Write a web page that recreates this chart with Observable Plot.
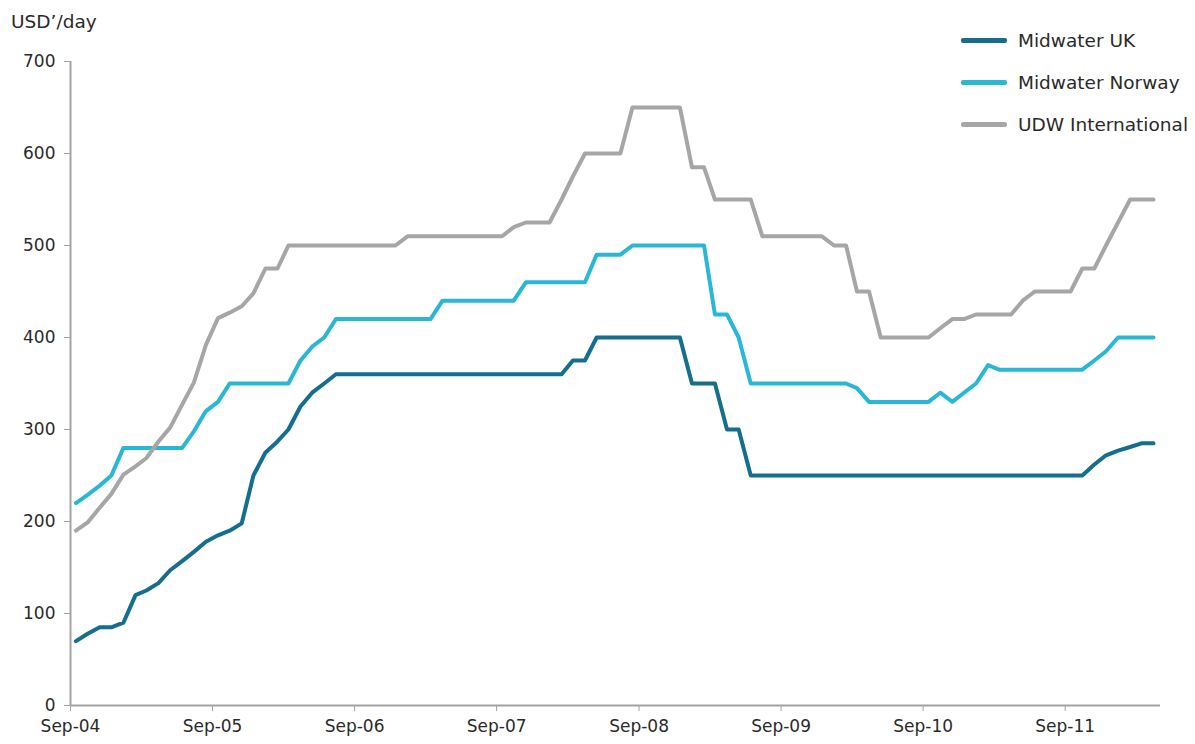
<!DOCTYPE html>
<html>
<head>
<meta charset="utf-8">
<script src="https://cdn.jsdelivr.net/npm/d3@7"></script>
<script src="https://cdn.jsdelivr.net/npm/@observablehq/plot@0.6"></script>
<style>
  html, body { margin: 0; padding: 0; background: #fff; }
  #wrap { position: relative; width: 1195px; height: 744px; font-family: "DejaVu Sans", sans-serif; color: #2a2a2a; }
  #ylabel { position: absolute; left: 11px; top: 11px; font-size: 18.5px; }
  #legend { position: absolute; left: 961px; top: 19px; font-size: 18.5px; }
  .row { display: flex; align-items: center; height: 42px; }
  .swatch { width: 46px; height: 5px; border-radius: 2px; margin-right: 11px; }
</style>
</head>
<body>
<div id="wrap">
  <div id="chart"></div>
  <div id="ylabel">USD’/day</div>
  <div id="legend"></div>
</div>
<script>
// Series names and colours
const seriesNames = ["Midwater UK", "Midwater Norway", "UDW International"];
const seriesColors = ["#156e8e", "#2ab7d5", "#a6a6a6"];

// Monthly values, first month Sep-04 (USD'000/day)
const midwaterUK = [
  70, 78, 85, 85, 90, 120, 125, 133, 147, 157, 167, 178,
  185, 190, 198, 250, 275, 287, 300, 325, 340, 350, 360, 360,
  360, 360, 360, 360, 360, 360, 360, 360, 360, 360, 360, 360,
  360, 360, 360, 360, 360, 360, 375, 375, 400, 400, 400, 400,
  400, 400, 400, 400, 350, 350, 350, 300, 300, 250, 250, 250,
  250, 250, 250, 250, 250, 250, 250, 250, 250, 250, 250, 250,
  250, 250, 250, 250, 250, 250, 250, 250, 250, 250, 250, 250,
  250, 250, 262, 272, 277, 281, 285, 285
];
const midwaterNorway = [
  220, 229, 239, 250, 280, 280, 280, 280, 280, 280, 298, 320,
  330, 350, 350, 350, 350, 350, 350, 375, 390, 400, 420, 420,
  420, 420, 420, 420, 420, 420, 420, 440, 440, 440, 440, 440,
  440, 440, 460, 460, 460, 460, 460, 460, 490, 490, 490, 500,
  500, 500, 500, 500, 500, 500, 425, 425, 400, 350, 350, 350,
  350, 350, 350, 350, 350, 350, 345, 330, 330, 330, 330, 330,
  330, 340, 330, 340, 350, 370, 365, 365, 365, 365, 365, 365,
  365, 365, 375, 385, 400, 400, 400, 400
];
const udwInternational = [
  190, 199, 215, 230, 251, 260, 269, 287, 302, 327, 351, 392,
  421, 427, 434, 448, 475, 475, 500, 500, 500, 500, 500, 500,
  500, 500, 500, 500, 510, 510, 510, 510, 510, 510, 510, 510,
  510, 520, 525, 525, 525, 550, 575, 600, 600, 600, 600, 650,
  650, 650, 650, 650, 585, 585, 550, 550, 550, 550, 510, 510,
  510, 510, 510, 510, 500, 500, 450, 450, 400, 400, 400, 400,
  400, 410, 420, 420, 425, 425, 425, 425, 440, 450, 450, 450,
  450, 475, 475, 500, 525, 550, 550, 550
];

// Axis ticks
const yTicks = [0, 100, 200, 300, 400, 500, 600, 700];
const xTickYears = [2004, 2005, 2006, 2007, 2008, 2009, 2010, 2011];

const allSeries = [midwaterUK, midwaterNorway, udwInternational];
const data = [];
allSeries.forEach((vals, s) => {
  vals.forEach((v, i) => {
    data.push({ series: seriesNames[s], date: new Date(Date.UTC(2004, 8 + i, 15)), value: v });
  });
});

const xStart = new Date(Date.UTC(2004, 8, 1));
const xEnd = new Date(Date.UTC(2012, 4, 3));
const xTicks = xTickYears.map(y => new Date(Date.UTC(y, 8, 1)));
const axisGray = "#a3a3a3";

const chart = Plot.plot({
  width: 1195,
  height: 744,
  marginLeft: 70,
  marginRight: 35,
  marginTop: 61,
  marginBottom: 39,
  style: { fontFamily: "DejaVu Sans, sans-serif", fontSize: "17px", color: "#2a2a2a", background: "white" },
  x: { type: "utc", domain: [xStart, xEnd] },
  y: { domain: [0, 700] },
  color: { domain: seriesNames, range: seriesColors },
  marks: [
    Plot.ruleX([xStart], { stroke: axisGray, strokeWidth: 2 }),
    Plot.ruleY([0], { stroke: axisGray, strokeWidth: 2 }),
    Plot.axisY(yTicks, { tickSize: 6, tickPadding: 9, stroke: axisGray, fill: "#2a2a2a", label: null, fontSize: 17 }),
    Plot.axisX(xTicks, { tickSize: 6, tickPadding: 8, stroke: axisGray, fill: "#2a2a2a", label: null, fontSize: 17, tickFormat: d3.utcFormat("%b-%y") }),
    Plot.line(data, { x: "date", y: "value", z: "series", stroke: "series", strokeWidth: 4, strokeLinejoin: "round", strokeLinecap: "round" })
  ]
});
document.getElementById("chart").appendChild(chart);

const legend = document.getElementById("legend");
seriesNames.forEach((name, i) => {
  const row = document.createElement("div");
  row.className = "row";
  const sw = document.createElement("span");
  sw.className = "swatch";
  sw.style.background = seriesColors[i];
  const t = document.createElement("span");
  t.textContent = name;
  row.appendChild(sw);
  row.appendChild(t);
  legend.appendChild(row);
});
</script>
</body>
</html>
